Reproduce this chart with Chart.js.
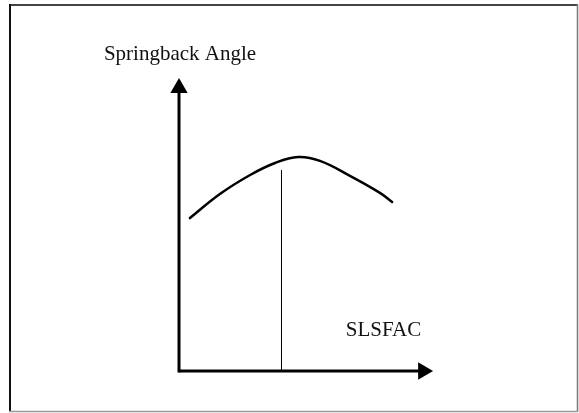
<!DOCTYPE html>
<html>
<head>
<meta charset="utf-8">
<script src="https://cdn.jsdelivr.net/npm/chart.js@4/dist/chart.umd.min.js"></script>
<style>
  body { margin: 0; background: #fff; }
  #wrap { width: 579px; height: 413px; }
</style>
</head>
<body>
<div id="wrap"><canvas id="grafico" width="579" height="413"></canvas></div>
<script>
// curve (schematic)
var curveX = [4.3, 16.1, 28.0, 37.8, 46.9, 55.5, 67.3, 79.1, 83.9];
var curveY = [52.2, 60.4, 66.9, 71.0, 73.0, 71.7, 66.6, 60.8, 57.7];

// vertical marker line
var markerX = 40.35;
var markerTop = 68.6;

// axis ends (centre of the arrow heads)
var xAxisEnd = 96.1;
var yAxisEnd = 96.6;

var yTitle = 'Springback Angle';
var xTitle = 'SLSFAC';

function pontos(xs, ys) {
    return xs.map(function (x, i) { return { x: x, y: ys[i] }; });
}

var moldura = {
    id: 'moldura',
    beforeDraw: function (c) {
        var ctx = c.ctx;
        ctx.save();
        ctx.fillStyle = '#fff';
        ctx.fillRect(0, 0, c.width, c.height);
        ctx.lineWidth = 2;
        ctx.strokeStyle = '#444';
        ctx.beginPath(); ctx.moveTo(9, 5); ctx.lineTo(578, 5); ctx.stroke();
        ctx.strokeStyle = '#111';
        ctx.beginPath(); ctx.moveTo(10, 4); ctx.lineTo(10, 412); ctx.stroke();
        ctx.lineWidth = 1.5;
        ctx.strokeStyle = '#777';
        ctx.beginPath(); ctx.moveTo(577.5, 4); ctx.lineTo(577.5, 412); ctx.stroke();
        ctx.strokeStyle = '#999';
        ctx.beginPath(); ctx.moveTo(9, 411.5); ctx.lineTo(578, 411.5); ctx.stroke();
        ctx.restore();
    },
    afterDraw: function (c) {
        var ctx = c.ctx;
        var sx = c.scales.x, sy = c.scales.y;
        ctx.save();
        ctx.fillStyle = '#111';
        ctx.font = '21px "Liberation Serif", "Times New Roman", serif';
        ctx.textAlign = 'center';
        ctx.textBaseline = 'alphabetic';
        ctx.fillText(yTitle, sx.getPixelForValue(0) + 1, 60);
        ctx.fillText(xTitle, sx.getPixelForValue(80.5), sy.getPixelForValue(12));
        ctx.restore();
    }
};

var ctx = document.getElementById('grafico').getContext('2d');
var chart = new Chart(ctx, {
    type: 'scatter',
    data: {
        datasets: [{
            label: 'curva',
            data: pontos(curveX, curveY),
            showLine: true,
            borderColor: '#000',
            borderWidth: 2.5,
            borderCapStyle: 'round',
            tension: 0.4,
            pointRadius: 0,
            clip: false
        }, {
            label: 'marcador',
            data: [{ x: markerX, y: 0 }, { x: markerX, y: markerTop }],
            showLine: true,
            borderColor: '#000',
            borderWidth: 1,
            pointRadius: 0,
            clip: false
        }, {
            label: 'eixo x',
            data: [{ x: 0, y: 0 }, { x: xAxisEnd, y: 0 }],
            showLine: true,
            borderColor: '#000',
            borderWidth: 3,
            pointStyle: 'triangle',
            pointRadius: [0, 10],
            pointRotation: 90,
            pointBackgroundColor: '#000',
            pointBorderColor: '#000',
            pointBorderWidth: 0,
            clip: false
        }, {
            label: 'eixo y',
            data: [{ x: 0, y: -0.5 }, { x: 0, y: yAxisEnd }],
            showLine: true,
            borderColor: '#000',
            borderWidth: 3,
            pointStyle: 'triangle',
            pointRadius: [0, 10],
            pointBackgroundColor: '#000',
            pointBorderColor: '#000',
            pointBorderWidth: 0,
            clip: false
        }]
    },
    options: {
        responsive: false,
        animation: false,
        layout: { padding: { left: 179, right: 146, top: 78, bottom: 42 } },
        plugins: { legend: { display: false }, tooltip: { enabled: false } },
        scales: {
            x: { type: 'linear', min: 0, max: 100, display: false },
            y: { type: 'linear', min: 0, max: 100, display: false }
        }
    },
    plugins: [moldura]
});
</script>
</body>
</html>
